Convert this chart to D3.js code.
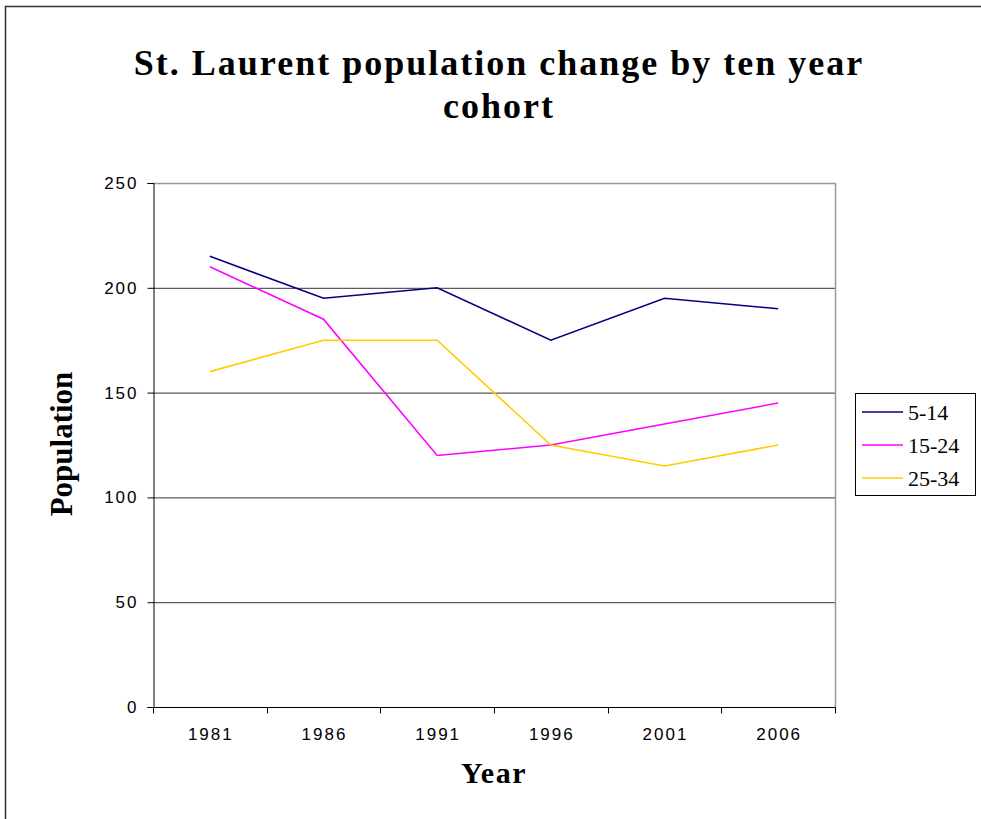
<!DOCTYPE html>
<html>
<head>
<meta charset="utf-8">
<script src="https://cdn.jsdelivr.net/npm/d3@7"></script>
<style>
  html, body { margin: 0; padding: 0; background: #fff; }
  svg { display: block; }
</style>
</head>
<body>
<svg id="chart" width="981" height="819"></svg>
<script>
// Census years and population per ten-year age cohort
const years = ["1981", "1986", "1991", "1996", "2001", "2006"];
const cohort5to14 = [215, 195, 200, 175, 195, 190];
const cohort15to24 = [210, 185, 120, 125, 135, 145];
const cohort25to34 = [160, 175, 175, 125, 115, 125];
const seriesNames = ["5-14", "15-24", "25-34"];
const seriesColors = ["#000080", "#FF00FF", "#FFCC00"];
const yTicks = [0, 50, 100, 150, 200, 250];

const series = [cohort5to14, cohort15to24, cohort25to34].map((vals, i) => ({
  name: seriesNames[i], color: seriesColors[i], values: vals
}));

const svg = d3.select("#chart");
const W = 981, H = 819;
const plot = { left: 153, right: 835, top: 183, bottom: 707 };

// Outer chart frame (extends past the right and bottom edges)
svg.append("rect")
  .attr("x", 5.5).attr("y", 6.5)
  .attr("width", W + 20).attr("height", H + 20)
  .attr("fill", "none").attr("stroke", "#333").attr("stroke-width", 1.5);

const x = d3.scaleBand().domain(years).range([plot.left, plot.right]);
const y = d3.scaleLinear().domain([0, 250]).range([plot.bottom, plot.top]);

// Horizontal gridlines
svg.append("g").selectAll("line")
  .data(yTicks.filter(t => t > 0 && t < 250))
  .join("line")
  .attr("x1", plot.left).attr("x2", plot.right)
  .attr("y1", d => y(d) + 0.5).attr("y2", d => y(d) + 0.5)
  .attr("stroke", "#333").attr("stroke-width", 1);

// Plot area frame: top and right in grey
svg.append("path")
  .attr("d", `M${plot.left},${plot.top + 0.5}H${plot.right + 0.5}V${plot.bottom}`)
  .attr("fill", "none").attr("stroke", "#999").attr("stroke-width", 1.5);

// Y axis
const yAxis = d3.axisLeft(y).tickValues(yTicks).tickSize(6).tickPadding(9);
const gy = svg.append("g")
  .attr("transform", `translate(${plot.left + 0.5},0)`)
  .call(yAxis);
gy.select(".domain").attr("stroke", "#000").attr("stroke-width", 1);
gy.selectAll(".tick line").attr("stroke", "#000");
gy.selectAll(".tick text")
  .attr("font-family", "Liberation Sans, Arial, sans-serif")
  .attr("font-size", 17).attr("letter-spacing", 2).attr("fill", "#000");

// X axis: ticks sit on category boundaries, labels centred in each band
const gx = svg.append("g").attr("transform", `translate(0,${plot.bottom + 0.5})`);
gx.append("line")
  .attr("x1", plot.left).attr("x2", plot.right + 1)
  .attr("stroke", "#000");
const bounds = years.map(d => x(d)).concat([x.range()[1]]);
gx.selectAll("line.tick").data(bounds).join("line")
  .attr("class", "tick")
  .attr("x1", d => Math.round(d) + 0.5).attr("x2", d => Math.round(d) + 0.5)
  .attr("y1", 0).attr("y2", 6).attr("stroke", "#000");
gx.selectAll("text").data(years).join("text")
  .attr("x", d => x(d) + x.bandwidth() / 2 + 1)
  .attr("y", 32)
  .attr("text-anchor", "middle")
  .attr("font-family", "Liberation Sans, Arial, sans-serif")
  .attr("font-size", 17).attr("letter-spacing", 2)
  .text(d => d);

// Series lines
const line = d3.line()
  .x((d, i) => x(years[i]) + x.bandwidth() / 2)
  .y(d => y(d));
svg.append("g").selectAll("path")
  .data(series).join("path")
  .attr("d", d => line(d.values))
  .attr("fill", "none")
  .attr("stroke", d => d.color)
  .attr("stroke-width", 1.6)
  .attr("stroke-linejoin", "miter");

// Title
const title = svg.append("text")
  .attr("text-anchor", "middle")
  .attr("font-family", "Liberation Serif, Times New Roman, serif")
  .attr("font-weight", "bold").attr("font-size", 36)
  .attr("letter-spacing", 2);
title.append("tspan").attr("x", 499).attr("y", 75).text("St. Laurent population change by ten year");
title.append("tspan").attr("x", 499).attr("y", 118).text("cohort");

// Axis titles
svg.append("text")
  .attr("transform", "translate(72,444) rotate(-90)")
  .attr("text-anchor", "middle")
  .attr("font-family", "Liberation Serif, Times New Roman, serif")
  .attr("font-weight", "bold").attr("font-size", 31)
  .text("Population");
svg.append("text")
  .attr("x", 494).attr("y", 783)
  .attr("text-anchor", "middle")
  .attr("font-family", "Liberation Serif, Times New Roman, serif")
  .attr("font-weight", "bold").attr("font-size", 30)
  .attr("letter-spacing", 1.5)
  .text("Year");

// Legend
const lg = svg.append("g").attr("transform", "translate(855,393)");
lg.append("rect")
  .attr("x", 0.5).attr("y", 0.5).attr("width", 120).attr("height", 102)
  .attr("fill", "#fff").attr("stroke", "#000").attr("stroke-width", 1);
const item = lg.selectAll("g.item").data(series).join("g")
  .attr("class", "item")
  .attr("transform", (d, i) => `translate(0,${19 + i * 33})`);
item.append("line")
  .attr("x1", 7).attr("x2", 48)
  .attr("stroke", d => d.color).attr("stroke-width", 1.6);
item.append("text")
  .attr("x", 53).attr("y", 8)
  .attr("font-family", "Liberation Serif, Times New Roman, serif")
  .attr("font-size", 22)
  .text(d => d.name);
</script>
</body>
</html>
